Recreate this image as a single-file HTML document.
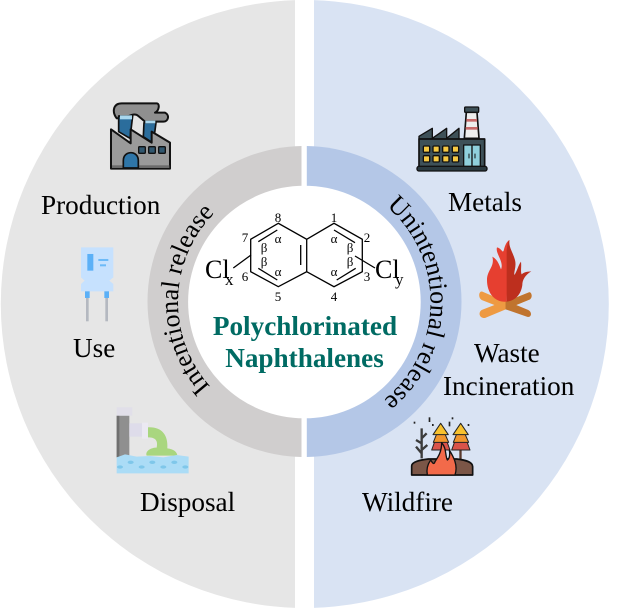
<!DOCTYPE html>
<html><head><meta charset="utf-8"><style>
html,body{margin:0;padding:0;background:#fff}
svg{display:block}
text{font-family:"Liberation Serif",serif;fill:#000}
</style></head><body>
<svg xmlns="http://www.w3.org/2000/svg" width="617" height="608" viewBox="0 0 617 608">
<defs>
<clipPath id="cl1"><rect x="0" y="0" width="295" height="608"/></clipPath>
<clipPath id="cr1"><rect x="314" y="0" width="303" height="608"/></clipPath>
<clipPath id="cl2"><rect x="0" y="0" width="301.500" height="608"/></clipPath>
<clipPath id="cr2"><rect x="306.800" y="0" width="310" height="608"/></clipPath>
<path id="l" d="M304.500 428.500A126.500 126.500 0 0 1 304.500 175.500"/>
<path id="r" d="M304.500 176A126 126 0 0 1 304.500 428"/>
</defs>
<rect width="617" height="608" fill="#fff"/>
<circle cx="304.800" cy="304" r="304" fill="#e6e6e6" clip-path="url(#cl1)"/>
<circle cx="304.800" cy="304" r="304" fill="#d9e3f3" clip-path="url(#cr1)"/>
<rect x="295" y="140" width="19" height="325" fill="#fff"/>
<ellipse cx="304.500" cy="301.500" rx="157" ry="155.500" fill="#d0cece" clip-path="url(#cl2)"/>
<ellipse cx="304.500" cy="301.500" rx="157" ry="155.500" fill="#b4c7e7" clip-path="url(#cr2)"/>
<circle cx="304.400" cy="302" r="116.300" fill="#fff"/>
<text font-size="26"><textPath href="#l" startOffset="50.800%" text-anchor="middle">Intentional release</textPath></text>
<text font-size="26"><textPath href="#r" startOffset="50.500%" text-anchor="middle">Unintentional release</textPath></text>

<!-- molecule -->
<g fill="none" stroke="#000" stroke-width="1.300">
<path d="M278.300 223.300L250.700 239.300V271.700L278.300 286.700L306.700 271.700V239.300ZM306.700 239.300L334 223.300L362.300 239.300V271.700L334 286.700L306.700 271.700"/>
<path d="M258.300 241.700L277.300 230M258.300 268.300L277.300 280M300.700 245V265M334 230L355 242.700M336.700 280L355.700 268.300M233.300 268L251 255M355 256L375 268"/>
</g>
<g font-size="13" text-anchor="middle">
<text x="278" y="222">8</text><text x="334" y="222">1</text><text x="367" y="242">2</text><text x="245" y="242">7</text><text x="245" y="281">6</text><text x="367" y="281">3</text><text x="278" y="301">5</text><text x="334" y="301">4</text>
</g>
<g font-size="13" text-anchor="middle">
<text x="278" y="243">α</text><text x="334" y="243">α</text><text x="278" y="276">α</text><text x="334" y="276">α</text>
<text x="264" y="252">β</text><text x="264" y="266">β</text><text x="350" y="252">β</text><text x="350" y="266">β</text>
</g>
<text x="205" y="278" font-size="26">Cl</text><text x="225" y="285" font-size="17">x</text>
<text x="375" y="278" font-size="26">Cl</text><text x="395" y="285" font-size="17">y</text>
<g font-size="27.200" font-weight="bold" text-anchor="middle">
<text x="305" y="335" style="fill:#006b63">Polychlorinated</text>
<text x="304.500" y="367" style="fill:#006b63">Naphthalenes</text>
</g>

<!-- labels -->
<g font-size="27.200">
<text x="41" y="214">Production</text>
<text x="73" y="357">Use</text>
<text x="140" y="511">Disposal</text>
<text x="448" y="211">Metals</text>
<text x="474" y="362">Waste</text>
<text x="443" y="395">Incineration</text>
<text x="362" y="511">Wildfire</text>
</g>

<!-- production factory -->
<g transform="translate(70,90) scale(.3333)" stroke-linejoin="round">
<path d="M140 85C125 65 130 40 155 40H260C270 40 268 62 255 68H285C300 75 295 95 280 95H225L205 78C190 65 175 85 140 85Z" fill="#8f8f8f" stroke="#111" stroke-width="6"/>
<path d="M146 78H188L180 145L146 125Z" fill="#2b6d9c" stroke="#111" stroke-width="5"/>
<rect x="150" y="76" width="36" height="12" fill="#a9d7ee"/>
<path d="M222 98H258L250 160L220 140Z" fill="#2b6d9c" stroke="#111" stroke-width="5"/>
<rect x="226" y="92" width="30" height="8" fill="#a9d7ee"/>
<path d="M123 118L182 160V118L245 158V125L300 158V236H123Z" fill="#9a9a9a" stroke="#111" stroke-width="6"/>
<rect x="126" y="226" width="172" height="8" fill="#6c6c6c"/>
<path d="M160 234V212C160 180 205 180 205 212V234Z" fill="#2f76a8" stroke="#111" stroke-width="5"/>
<rect x="206" y="170" width="20" height="20" rx="3" fill="#30566e" stroke="#111" stroke-width="4"/>
<rect x="236" y="170" width="20" height="20" rx="3" fill="#30566e" stroke="#111" stroke-width="4"/>
<rect x="266" y="170" width="20" height="20" rx="3" fill="#30566e" stroke="#111" stroke-width="4"/>
</g>

<!-- capacitor -->
<g transform="translate(70,90) scale(.3333)">
<path d="M33 472H130V562L118 572L130 582V604H33V582L44 572L33 562Z" fill="#c6e1fe"/>
<rect x="52" y="492" width="18" height="50" fill="#5bb0f7"/>
<rect x="85" y="507" width="30" height="6" fill="#6cbaf8"/>
<rect x="90" y="523" width="18" height="6" fill="#6cbaf8"/>
<rect x="45" y="604" width="14" height="20" fill="#5bb0f7"/>
<rect x="103" y="604" width="14" height="20" fill="#5bb0f7"/>
<rect x="48" y="624" width="8" height="70" fill="#b4b8c0"/>
<rect x="106" y="624" width="8" height="70" fill="#b4b8c0"/>
</g>

<!-- disposal -->
<g transform="translate(100,395) scale(.3333)">
<rect x="50" y="62" width="38" height="125" fill="#8f8f8f"/>
<rect x="50" y="62" width="8" height="125" fill="#6f6f6f"/>
<rect x="50" y="37" width="47" height="25" fill="#e1dfe9"/>
<rect x="88" y="85" width="40" height="40" fill="#dedcea"/>
<rect x="126" y="83" width="18" height="48" fill="#ebe9f2"/>
<path d="M144 97C185 95 205 120 202 160C222 162 232 172 232 182H140C135 170 150 158 170 158C175 135 165 127 144 127Z" fill="#a9d67f"/>
<path d="M50 187L75 178L110 185L150 183L190 187L230 180L266 185V235H50Z" fill="#abdcf6"/>
<g fill="#7fc7ea"><ellipse cx="60" cy="216" rx="9" ry="5"/><ellipse cx="92" cy="202" rx="9" ry="5"/><ellipse cx="125" cy="216" rx="9" ry="5"/><ellipse cx="157" cy="202" rx="9" ry="5"/><ellipse cx="190" cy="216" rx="9" ry="5"/><ellipse cx="223" cy="202" rx="9" ry="5"/><ellipse cx="256" cy="216" rx="9" ry="5"/></g>
</g>

<!-- metals factory -->
<g transform="translate(405,95) scale(.3333)" stroke-linejoin="round">
<path d="M178 130L184 52H216L222 130Z" fill="#eee" stroke="#111" stroke-width="5"/>
<rect x="184" y="72" width="32" height="8" fill="#c86a6a"/><rect x="182" y="96" width="36" height="8" fill="#c86a6a"/>
<rect x="179" y="36" width="42" height="16" rx="3" fill="#3e5158" stroke="#111" stroke-width="4"/>
<path d="M42 132V124L82 100V130L125 100V130L162 100V132Z" fill="#3e5158" stroke="#111" stroke-width="4"/>
<rect x="42" y="132" width="197" height="84" fill="#3e5158" stroke="#111" stroke-width="5"/>
<rect x="36" y="214" width="210" height="14" rx="6" fill="#2b3a40" stroke="#111" stroke-width="4"/>
<g fill="#f5c842" stroke="#111" stroke-width="4">
<rect x="55" y="153" width="19" height="19" rx="3"/><rect x="84" y="153" width="19" height="19" rx="3"/><rect x="113" y="153" width="19" height="19" rx="3"/><rect x="142" y="153" width="19" height="19" rx="3"/>
<rect x="55" y="182" width="19" height="19" rx="3"/><rect x="84" y="182" width="19" height="19" rx="3"/><rect x="113" y="182" width="19" height="19" rx="3"/><rect x="142" y="182" width="19" height="19" rx="3"/>
</g>
<rect x="176" y="150" width="50" height="64" fill="#8fd0dc" stroke="#111" stroke-width="4"/>
<path d="M201 150V214" stroke="#111" stroke-width="4"/>
<path d="M192 176V190M210 176V190" stroke="#111" stroke-width="3"/>
</g>

<!-- campfire -->
<g transform="translate(465,230) scale(.3333)">
<path d="M52 185L122 215L190 188C198 182 205 200 195 208L122 238L50 210C38 202 42 182 52 185Z" fill="#ee9a42"/>
<path d="M50 240L122 212V238L60 264C44 266 38 248 50 240Z" fill="#ee9a42"/>
<path d="M122 212L190 240C204 248 198 265 185 260L122 238Z" fill="#c0742e"/>
<path d="M122 215L190 188C198 182 205 200 195 208L122 238Z" fill="#c0742e"/>
<path d="M125 215C90 218 66 190 66 150C66 120 90 110 82 80C100 90 104 110 108 118C118 95 90 70 96 52C110 55 112 70 116 62C120 45 125 35 133 30L125 215Z" fill="#e63f30"/>
<path d="M125 215V60C128 45 128 35 133 30C130 50 145 70 150 90C155 110 146 125 148 135C156 125 160 105 168 95C170 110 166 125 170 133C178 125 188 125 199 124C180 135 172 150 172 165C168 195 150 212 125 215Z" fill="#bd2f1e"/>
</g>

<!-- wildfire -->
<g transform="translate(400,410) scale(.3333)" stroke-linejoin="round">
<path d="M65 55V145M65 100L48 90M65 130L48 110M65 85L80 70M65 120L82 105" stroke="#3b3b3b" stroke-width="7" fill="none"/>
<g fill="#222"><rect x="41" y="35" width="5" height="6"/><rect x="86" y="22" width="5" height="14"/><rect x="96" y="42" width="5" height="6"/><rect x="146" y="35" width="5" height="14"/><rect x="155" y="22" width="5" height="6"/><rect x="203" y="42" width="5" height="6"/></g>
<rect x="120" y="115" width="7" height="35" fill="#5a3a2c"/><rect x="178" y="115" width="7" height="35" fill="#5a3a2c"/>
<g stroke="#222" stroke-width="3">
<path d="M95 120L104 95H141L150 120Z" fill="#d9534a"/>
<path d="M100 97L110 72H135L146 97Z" fill="#f0952e"/>
<path d="M122 40L145 74H99Z" fill="#f7c12f"/>
<path d="M155 120L164 95H201L210 120Z" fill="#d9534a"/>
<path d="M160 97L170 72H195L206 97Z" fill="#f0952e"/>
<path d="M182 40L205 74H159Z" fill="#f7c12f"/>
</g>
<path d="M35 195V168C35 155 60 150 85 147H170C195 150 218 155 218 170V195Z" fill="#7b5647" stroke="#111" stroke-width="5"/>
<path d="M82 195C78 175 85 160 92 150C98 160 102 165 105 155C115 140 125 125 125 98C140 115 135 135 142 150C150 145 150 130 148 120C160 140 175 165 165 195Z" fill="#f26a4a" stroke="#111" stroke-width="4"/>
</g>
</svg>
</body></html>
